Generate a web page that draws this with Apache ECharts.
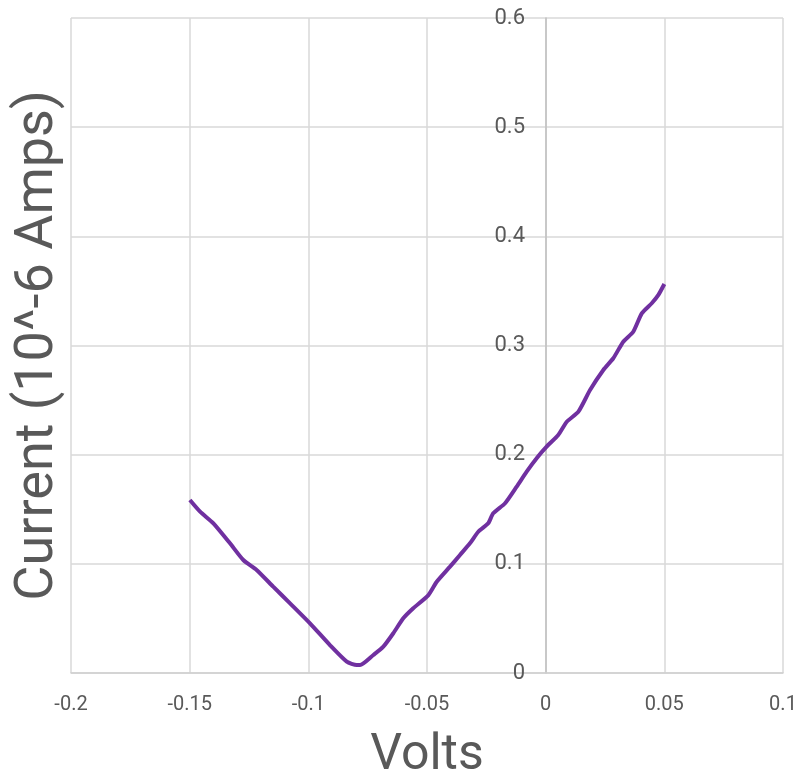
<!DOCTYPE html>
<html>
<head>
<meta charset="utf-8">
<script src="https://cdn.jsdelivr.net/npm/echarts@6/dist/echarts.min.js"></script>
<style>html,body{margin:0;padding:0;background:#fff;}#c{width:804px;height:781px;}</style>
</head>
<body>
<div id="c"></div>
<script>
const xTitle = 'Volts';
const yTitle = 'Current (10^-6 Amps)';
const volts = [-0.1499,-0.1456,-0.1400,-0.1330,-0.1274,-0.1218,-0.1148,-0.1077,-0.0993,-0.0909,-0.0838,-0.0796,
  -0.0782,-0.0726,-0.0684,-0.0642,-0.0600,-0.0558,-0.0494,-0.0459,-0.0403,-0.0361,-0.0319,-0.0284,-0.0242,-0.0221,
  -0.0171,-0.0122,-0.0080,-0.0038,0.0004,0.0053,0.0089,0.0138,0.0187,0.0243,0.0285,0.0327,0.0369,0.0405,0.0447,0.0475,0.0500];
const current = [0.1585,0.1478,0.1371,0.1188,0.1035,0.0944,0.0791,0.0638,0.0455,0.0256,0.0104,0.0073,
  0.0073,0.0165,0.0241,0.0364,0.0501,0.0593,0.0714,0.0836,0.0974,0.1081,0.1188,0.1294,0.1371,0.1463,
  0.1555,0.1707,0.1844,0.1967,0.2073,0.2180,0.2302,0.2394,0.2592,0.2776,0.2883,0.3035,0.3126,0.3295,0.3387,0.3463,0.3563];

const data = volts.map((v, i) => [v, current[i]]);
const chart = echarts.init(document.getElementById('c'), null, {renderer: 'canvas'});
chart.setOption({
  animation: false,
  backgroundColor: '#ffffff',
  grid: {left: 71, right: 21, top: 18, bottom: 108, containLabel: false, outerBoundsMode: 'none'},
  xAxis: {
    type: 'value', min: -0.2, max: 0.1, interval: 0.05,
    name: xTitle, nameLocation: 'middle', nameGap: 58,
    nameTextStyle: {fontFamily: 'Roboto, sans-serif', fontSize: 50, color: '#595959'},
    axisLine: {show: true, onZero: false, lineStyle: {color: '#d0d0d0', width: 1.5}},
    axisTick: {show: false},
    axisLabel: {margin: 22, fontFamily: 'Roboto, sans-serif', fontSize: 20, color: '#595959',
      formatter: v => String(Math.round(v * 100) / 100)},
    splitLine: {show: true, lineStyle: {color: '#d9d9d9', width: 1.5}}
  },
  yAxis: {
    type: 'value', min: 0, max: 0.6, interval: 0.1,
    position: 'left', offset: -475,
    name: yTitle, nameLocation: 'middle', nameGap: 481,
    nameTextStyle: {fontFamily: 'Roboto, sans-serif', fontSize: 54, color: '#595959'},
    axisLine: {show: true, onZero: false, lineStyle: {color: '#bfbfbf', width: 1.5}},
    axisTick: {show: false},
    axisLabel: {margin: 21, fontFamily: 'Roboto, sans-serif', fontSize: 22, color: '#595959',
      formatter: v => String(Math.round(v * 10) / 10)},
    splitLine: {show: true, lineStyle: {color: '#d9d9d9', width: 1.5}}
  },
  series: [{
    type: 'line', data: data, showSymbol: false, smooth: 0.2,
    lineStyle: {color: '#7030a0', width: 4}
  }]
});
</script>
</body>
</html>
